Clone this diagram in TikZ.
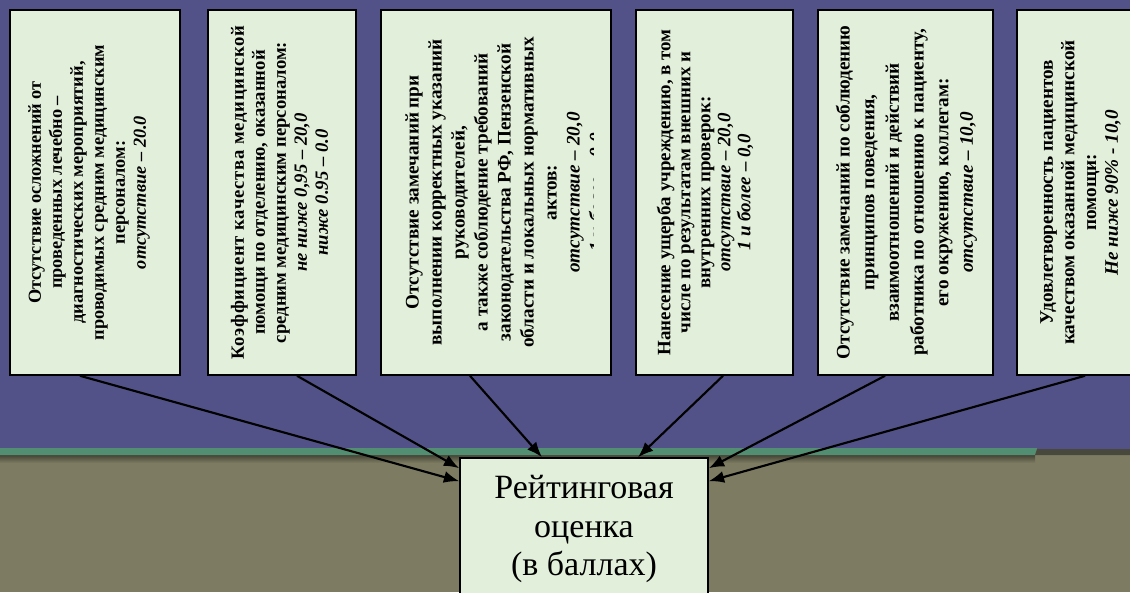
\documentclass[tikz,border=0pt]{standalone}
\usepackage{fontspec}
\setmainfont{Liberation Serif}
\usepackage{xcolor}
\usetikzlibrary{arrows.meta}
\definecolor{backtop}{RGB}{82,82,136}
\definecolor{backbottom}{RGB}{125,124,98}
\definecolor{stripe}{RGB}{82,142,114}
\definecolor{stripedark}{RGB}{72,72,60}
\definecolor{boxfill}{RGB}{226,239,218}
\tikzstyle{crit}=[draw, line width=1.2pt, fill=boxfill, inner sep=0pt, minimum height=273.75pt]
\tikzset{critext/.style 2 args={rotate=90, align=center, inner sep=0pt, font=\fontsize{#1}{#2}\selectfont\bfseries}}
\tikzstyle{rating}=[draw, line width=1.2pt, fill=boxfill, align=center, font=\fontsize{25.5}{29}\selectfont]
\tikzset{link/.style={-{Latex[length=11.5pt,width=9pt]}, line width=1.6pt}}

\begin{document}
\begin{tikzpicture}[x=0.75pt, y=-0.75pt]
  \clip (0,0) rectangle (1130,592);
  %% Background
  \fill[backtop] (0,0) rectangle (1130,449);
  \fill[backbottom] (0,449) rectangle (1130,592);
  \shade[top color=black!45!backbottom, bottom color=backbottom] (0,455) rectangle (1035,463);
  \fill[stripe] (0,448) -- (1037,448) -- (1035,455) -- (0,455) -- cycle;
  \fill[stripedark] (1037,449) -- (1130,449) -- (1130,455) -- (1035,455) -- cycle;

  %% Criteria boxes
  \draw (95,192.5) node[crit, minimum width=127.5pt] (B1) {};
  \draw (282,192.5) node[crit, minimum width=111pt] (B2) {};
  \draw (496,192.5) node[crit, minimum width=172.5pt] (B3) {};
  \draw (714.5,192.5) node[crit, minimum width=117.75pt] (B4) {};
  \draw (905.5,192.5) node[crit, minimum width=131.25pt] (B5) {};
  \draw (1078.5,192.5) node[crit, minimum width=92.25pt] (B6) {};

  \draw (89,192.5) node[critext={13.75}{15.75}] (T1) {Отсутствие осложнений от\\
    проведенных лечебно –\\ диагностических мероприятий,\\
    проводимых средним медицинским\\ персоналом:\\ \textit{отсутствие – 20.0}};
  \draw (279.5,192.5) node[critext={14}{15.75}] (T2) {\addfontfeature{LetterSpace=4}Коэффициент качества медицинской\\
    помощи по отделению, оказанной\\ средним медицинским персоналом:\\
    \textit{не ниже 0,95 – 20,0}\\ \textit{ниже 0.95 – 0.0}};
  \begin{scope}
    \clip (381,10) rectangle (593,375);
    \draw (505.5,192.5) node[critext={14.4}{17.25}] (T3) {Отсутствие замечаний при\\
      выполнении корректных указаний\\ руководителей,\\
      а также соблюдение требований\\ законодательства РФ, Пензенской\\
      области и локальных нормативных\\ актов:\\
      \textit{отсутствие – 20,0}\\ \textit{1 и более – 0,0}};
  \end{scope}
  \draw (705,192.5) node[critext={14.2}{15}] (T4) {Нанесение ущерба учреждению, в том\\
    числе по результатам внешних и\\ внутренних проверок:\\
    \textit{отсутствие – 20,0}\\ \textit{1 и более – 0,0}};
  \draw (906.5,192.5) node[critext={14.4}{18.5}] (T5) {Отсутствие замечаний по соблюдению\\
    принципов поведения,\\ взаимоотношений и действий\\
    работника по отношению к пациенту,\\ его окружению, коллегам:\\
    \textit{отсутствие – 10,0}};
  \draw (1080.5,192.5) node[critext={14.4}{16.25}] (T6) {Удовлетворенность пациентов\\
    качеством оказанной медицинской\\ помощи:\\ \textit{Не ниже 90\% - 10,0}};

  %% Result
  \draw (584,529) node[rating, minimum width=186pt, minimum height=106.5pt] (R) {Рейтинговая\\ оценка\\ (в баллах)};

  \draw[link] ([shift={(-15,0)}]B1.south) -- ([shift={(0,24)}]R.north west);
  \draw[link] ([shift={(15,0)}]B2.south) -- ([shift={(0,11)}]R.north west);
  \draw[link] ([shift={(-26,0)}]B3.south) -- ([shift={(-42,0)}]R.north);
  \draw[link] ([shift={(8.5,0)}]B4.south) -- ([shift={(54,0)}]R.north);
  \draw[link] ([shift={(-20.5,0)}]B5.south) -- ([shift={(0,11)}]R.north east);
  \draw[link] ([shift={(6.5,0)}]B6.south) -- ([shift={(0,24)}]R.north east);
\end{tikzpicture}
\end{document}
